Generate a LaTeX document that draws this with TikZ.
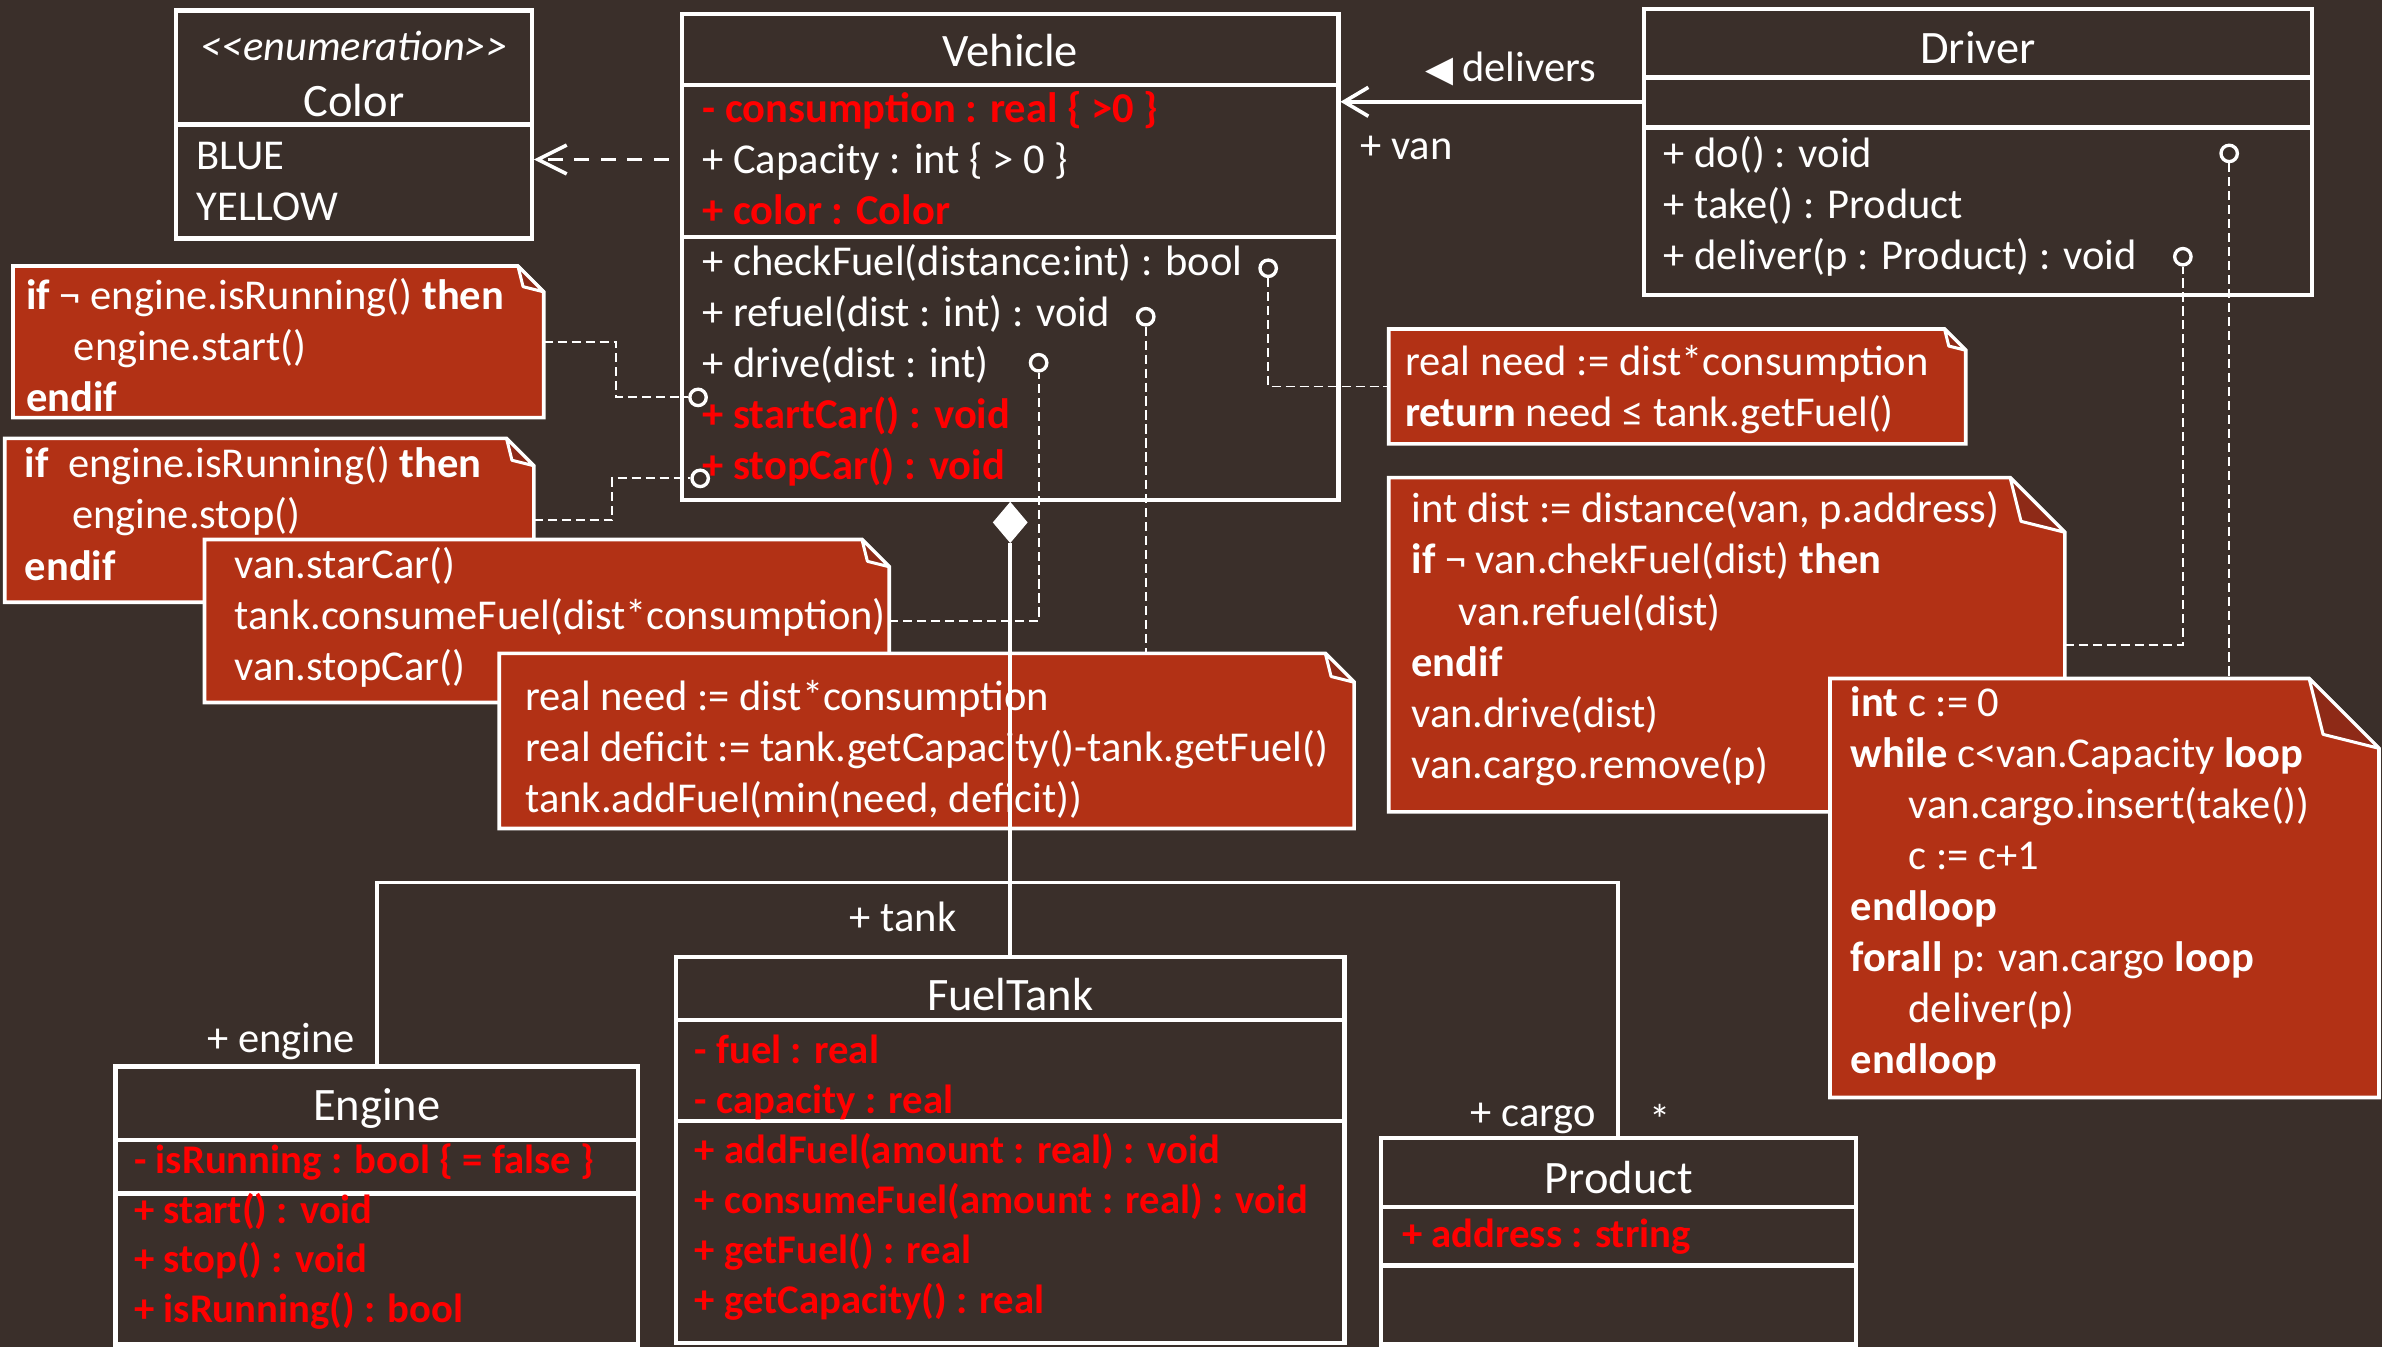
\documentclass[tikz,border=0pt]{standalone}
\usepackage{fontspec}
\setmainfont{Carlito}
\newfontfamily\symfont{DejaVu Sans}
\usetikzlibrary{arrows.meta,fit,shapes.geometric}

\definecolor{bgbrown}{HTML}{3A2F2A}
\definecolor{notered}{HTML}{B23115}
\definecolor{notefold}{HTML}{8E2A17}
\definecolor{umlred}{HTML}{FF0000}

\newcommand{\redb}[1]{{\color{umlred}\bfseries #1}}
\newcommand{\indnt}{\hspace*{15.6pt}}

% dog-eared note: name, north west corner, south east corner, fold size
\newcommand{\notecard}[4]{%
  \node[fit={#2 #3}, inner sep=0pt] (#1) {};
  \path[notebg] (#1.south west) -- (#1.north west) -- ([xshift=-#4]#1.north east)
    -- ([yshift=-#4]#1.north east) -- (#1.south east) -- cycle;
  \path[notefoldst] ([xshift=-#4]#1.north east) -- ([xshift=-0.8*#4,yshift=-0.8*#4]#1.north east)
    -- ([yshift=-#4]#1.north east) -- cycle;
}

\tikzset{
  classbox/.style={draw=white, line width=1.4pt, inner sep=0pt},
  divider/.style={draw=white, line width=1.4pt},
  classname/.style={text=white, font=\fontsize{15.3}{18.4}\selectfont, inner sep=0pt, anchor=base},
  members/.style={text=white, font=\fontsize{14}{16.8}\selectfont, inner sep=0pt, anchor=north west, align=left},
  hotmembers/.style={members, text=umlred},
  tag/.style={text=white, font=\fontsize{14}{16.8}\selectfont, inner sep=0pt},
  notebg/.style={fill=notered, draw=white, line width=1.2pt},
  notefoldst/.style={fill=notefold, draw=white, line width=1pt, line join=round},
  port/.style={circle, draw=white, fill=bgbrown, line width=1.1pt, minimum size=5.4pt, inner sep=0pt},
  link/.style={draw=white, line width=0.6pt, dash pattern=on 3pt off 1.6pt},
  rel/.style={draw=white, line width=1.2pt},
}

\begin{document}
\begin{tikzpicture}[x=0.5pt, y=-0.5pt]
\path[use as bounding box, fill=bgbrown] (0,0) rectangle (1568,887);

% enumeration Color
\node[classbox, fit={(116,7) (350,157)}] (color) {};
\draw[divider] (116,82) -- (350,82);
\node[classname, font=\fontsize{14}{16.8}\selectfont\itshape] (color-st) at (233,40) {<\kern0pt<enumeration>\kern0pt>};
\node[classname] (color-name) at (233,77) {Color};
\node[members] (color-lit) at (129,87.8) {\strut BLUE\\YELLOW};

% Vehicle
\node[classbox, fit={(449,9) (881,329)}] (vehicle) {};
\draw[divider] (449,56) -- (881,56);
\draw[divider] (449,156) -- (881,156);
\node[classname] (veh-name) at (665,44) {Vehicle};
\node[members] (veh-attr) at (462,56.5) {\strut\redb{- consumption : real \{ >0 \}}\\+ Capacity : int \{ > 0 \}\\\redb{+ color : Color}};
\node[members] (veh-ops) at (462,157.5) {\strut+ checkFuel(distance:int) : bool\\+ refuel(dist : int) : void\\+ drive(dist : int)\\\redb{+ startCar() : void}\\\redb{+ stopCar() : void}};

% Driver
\node[classbox, fit={(1082,6) (1522,194)}] (driver) {};
\draw[divider] (1082,51) -- (1522,51);
\draw[divider] (1082,84) -- (1522,84);
\node[classname] (drv-name) at (1302,42) {Driver};
\node[members] (drv-ops) at (1094.8,86.6) {\strut+ do() : void\\+ take() : Product\\+ deliver(p : Product) : void};

% Engine
\node[classbox, fit={(76,702) (420,885)}] (engine) {};
\draw[divider] (76,750.5) -- (420,750.5);
\draw[divider] (76,785.6) -- (420,785.6);
\node[classname] (eng-name) at (248,737.5) {Engine};
\node[hotmembers, font=\fontsize{13.4}{16.8}\selectfont\bfseries] (eng-attr) at (88,748.7) {\strut- isRunning : bool \{ = false \}};
\node[hotmembers, font=\fontsize{13.4}{16.2}\selectfont\bfseries] (eng-ops) at (88,782.4) {\strut+ start() : void\\+ stop() : void\\+ isRunning() : bool};

% FuelTank
\node[classbox, fit={(445,630) (885,884)}] (tank) {};
\draw[divider] (445,671.5) -- (885,671.5);
\draw[divider] (445,738) -- (885,738);
\node[classname] (tank-name) at (665,665.5) {FuelTank};
\node[hotmembers, font=\fontsize{13.4}{16.5}\selectfont\bfseries] (tank-attr) at (457,676.4) {\strut- fuel : real\\- capacity : real};
\node[hotmembers, font=\fontsize{13.4}{16.5}\selectfont\bfseries] (tank-ops) at (457,742.4) {\strut+ addFuel(amount : real) : void\\+ consumeFuel(amount : real) : void\\+ getFuel() : real\\+ getCapacity() : real};

% Product
\node[classbox, fit={(909,749) (1221.5,885)}] (product) {};
\draw[divider] (909,794.5) -- (1221.5,794.5);
\draw[divider] (909,833) -- (1221.5,833);
\node[classname] (prod-name) at (1065.5,785.5) {Product};
\node[hotmembers, font=\fontsize{13.4}{16.8}\selectfont\bfseries] (prod-attr) at (922.6,797) {\strut+ address : string};

% association and dependency
\coordinate (assoc) at (0,67);
\draw[rel, -{Straight Barb[length=8pt,width=9.5pt]}] (driver.west |- assoc) -- (vehicle.east |- assoc);
\node[tag, anchor=base east] (delivers) at (1051,53.5) {{\symfont\fontsize{12}{14}\selectfont ◀}\hspace{3pt}delivers};
\node[tag, anchor=base west] (van-role) at (895,105) {+ van};
\coordinate (dep) at (0,105);
\draw[rel, dash pattern=on 5pt off 3.7pt, dash phase=5pt, -{Straight Barb[length=9.5pt,width=9.5pt]}] (vehicle.west |- dep) -- (color.east |- dep);

% notes
\notecard{noteA}{(9,175.5)}{(357.5,274.5)}{8.5pt}
\node[members] (noteA-txt) at (17,180) {\strut\textbf{if} ¬ engine.isRunning() \textbf{then}\\\indnt engine.start()\\\textbf{endif}};
\notecard{noteB}{(3.5,289)}{(351,396)}{9pt}
\node[members] (noteB-txt) at (16,290.7) {\strut\textbf{if}\ \ engine.isRunning() \textbf{then}\\\indnt engine.stop()\\\textbf{endif}};
\notecard{noteC}{(135,355.5)}{(585,462)}{9pt}
\node[members] (noteC-txt) at (154,357) {\strut van.starCar()\\tank.consumeFuel(dist*consumption)\\van.stopCar()};
\notecard{noteD}{(329,430.5)}{(891,545)}{9.5pt}
\node[members] (noteD-txt) at (345.5,443.6) {\strut real need := dist*consumption\\real deficit := tank.getCapacity()-tank.getFuel()\\tank.addFuel(min(need, deficit))};
\notecard{noteE}{(914.6,217)}{(1293.6,291.8)}{7pt}
\node[members] (noteE-txt) at (924.5,223) {\strut real need := dist*consumption\\\textbf{return} need ≤ tank.getFuel()};
\notecard{noteF}{(914.6,314.8)}{(1358.8,534)}{18pt}
\node[members] (noteF-txt) at (928.8,320.3) {\strut int dist := distance(van, p.address)\\\textbf{if} ¬ van.chekFuel(dist) \textbf{then}\\\indnt van.refuel(dist)\\\textbf{endif}\\van.drive(dist)\\van.cargo.remove(p)};
\notecard{noteG}{(1205,447)}{(1565.6,722)}{23pt}
\node[members] (noteG-txt) at (1218,447.4) {\strut\textbf{int} c := 0\\\textbf{while} c<van.Capacity \textbf{loop}\\\hspace*{19pt}van.cargo.insert(take())\\\hspace*{19pt}c := c+1\\\textbf{endloop}\\\textbf{forall} p: van.cargo \textbf{loop}\\\hspace*{19pt}deliver(p)\\\textbf{endloop}};

% ports on operations
\node[port] (p-check) at (834.8,176.6) {};
\node[port] (p-refuel) at (754.2,208.5) {};
\node[port] (p-drive) at (683.7,238.8) {};
\node[port] (p-start) at (459.5,261.6) {};
\node[port] (p-stop) at (460.9,314.9) {};
\node[port] (p-do) at (1467.4,101) {};
\node[port] (p-deliver) at (1436.9,169) {};

% note links
\draw[link] (noteA.east) -| ([xshift=-27pt]p-start.center) -- (p-start);
\draw[link] (noteB.east) -| ([xshift=-29pt]p-stop.center) -- (p-stop);
\draw[link] (noteC.east) -| (p-drive);
\draw[link] (p-refuel) -- (p-refuel |- noteD.north);
\draw[link] (p-check) |- (noteE.west);
\draw[link] (noteF.east) -| (p-deliver);
\draw[link] (p-do) -- (p-do |- noteG.north);

% composition
\node[diamond, fill=white, draw=white, line width=0.5pt, minimum width=11pt, minimum height=13pt, inner sep=0pt, anchor=north] (whole) at (vehicle.south) {};
\coordinate (bar) at (665,581);
\draw[rel] (whole.south) -- (tank.north);
\draw[rel] (engine.north) |- (bar) -| (product.north);
\node[tag, anchor=base east] (tank-role) at (630,613) {+ tank};
\node[tag, anchor=base east] (engine-role) at (234,693) {+ engine};
\node[tag, anchor=base east] (cargo-role) at (1051,741.5) {+ cargo};
\node[tag, anchor=base west] (cargo-mult) at (1085.6,747) {*};
\end{tikzpicture}
\end{document}
